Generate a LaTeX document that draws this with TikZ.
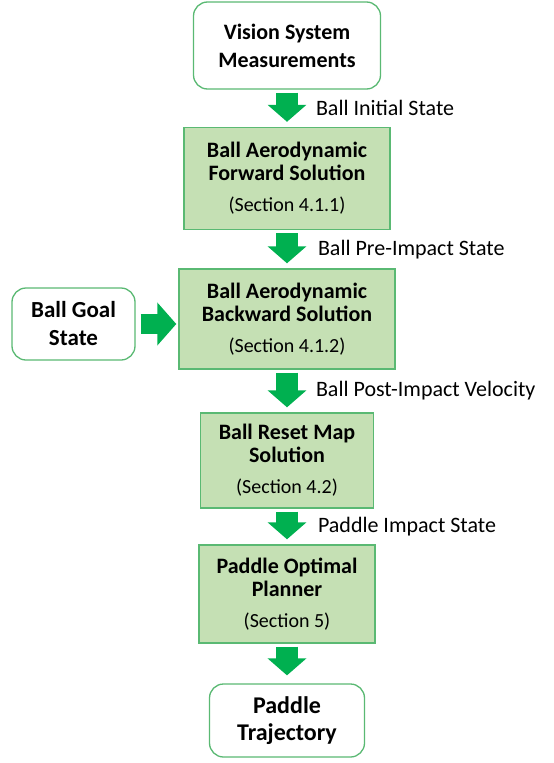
\documentclass[tikz,border=0pt]{standalone}
\usepackage{fontspec}
\setmainfont{Carlito}
\usepackage{tikz}
\usetikzlibrary{positioning, arrows.meta}

\definecolor{boxfill}{RGB}{197,224,180}
\definecolor{boxline}{RGB}{90,185,115}
\definecolor{arrowgreen}{RGB}{0,176,80}

\newcommand{\sectag}[1]{\\[8pt]{\fontsize{20}{23}\selectfont\mdseries (Section #1)}}

\tikzset{
    stepbox/.style={draw=boxline, line width=1.4pt, fill=boxfill, align=center,
        font=\fontsize{22}{23}\selectfont\bfseries, inner sep=0pt},
    termbox/.style={draw=boxline, line width=1.3pt, fill=white, rounded corners=14pt,
        align=center, font=\fontsize{22}{28}\selectfont\bfseries, inner sep=0pt},
    bigarrow/.style={draw=arrowgreen, line width=22pt,
        -{Triangle[length=17pt, width=38pt]}, shorten <=3pt, shorten >=5pt},
    lbl/.style={font=\fontsize{22}{24}\selectfont, inner sep=0pt, outer sep=0pt, anchor=west}
}

\begin{document}
\begin{tikzpicture}[x=1pt, y=-1pt]

            \useasboundingbox (0,0) rectangle (554,763);

            \node[termbox, minimum width=187pt, minimum height=87pt] (vision) at (287,45.5)
                {Vision System\\Measurements};
            \node[stepbox, minimum width=206pt, minimum height=102pt] (forward) at (287,178.5)
                {Ball Aerodynamic\\Forward Solution\sectag{4.1.1}};
            \node[stepbox, minimum width=216pt, minimum height=100pt] (backward) at (287,319)
                {Ball Aerodynamic\\Backward Solution\sectag{4.1.2}};
            \node[termbox, minimum width=123pt, minimum height=72pt,
                font=\fontsize{23}{28}\selectfont\bfseries] (goal) at (73.5,324)
                {Ball Goal\\State};
            \node[stepbox, minimum width=173pt, minimum height=95pt] (reset) at (287,460.5)
                {Ball Reset Map\\Solution\sectag{4.2}};
            \node[stepbox, minimum width=176pt, minimum height=98pt] (planner) at (287,594)
                {Paddle Optimal\\Planner\sectag{5}};
            \node[termbox, minimum width=155pt, minimum height=73pt,
                font=\fontsize{24}{27}\selectfont\bfseries] (traj) at (287,720.5)
                {Paddle\\Trajectory};

            \draw[bigarrow] (vision) -- (forward)
                node[lbl, midway, xshift=29pt] {Ball Initial State};
            \draw[bigarrow] (forward) -- (backward)
                node[lbl, midway, xshift=31pt] {Ball Pre-Impact State};
            \draw[bigarrow] (backward) -- (reset)
                node[lbl, midway, xshift=29pt] {Ball Post-Impact Velocity};
            \draw[bigarrow] (reset) -- (planner)
                node[lbl, midway, xshift=31pt] {Paddle Impact State};
            \draw[bigarrow, shorten >=8pt] (planner) -- (traj);
            \draw[bigarrow, line width=20pt, -{Triangle[length=19pt, width=42pt]},
                shorten <=5pt, shorten >=2pt] (goal.east) -- (goal.east -| backward.west);

        \end{tikzpicture}
\end{document}
